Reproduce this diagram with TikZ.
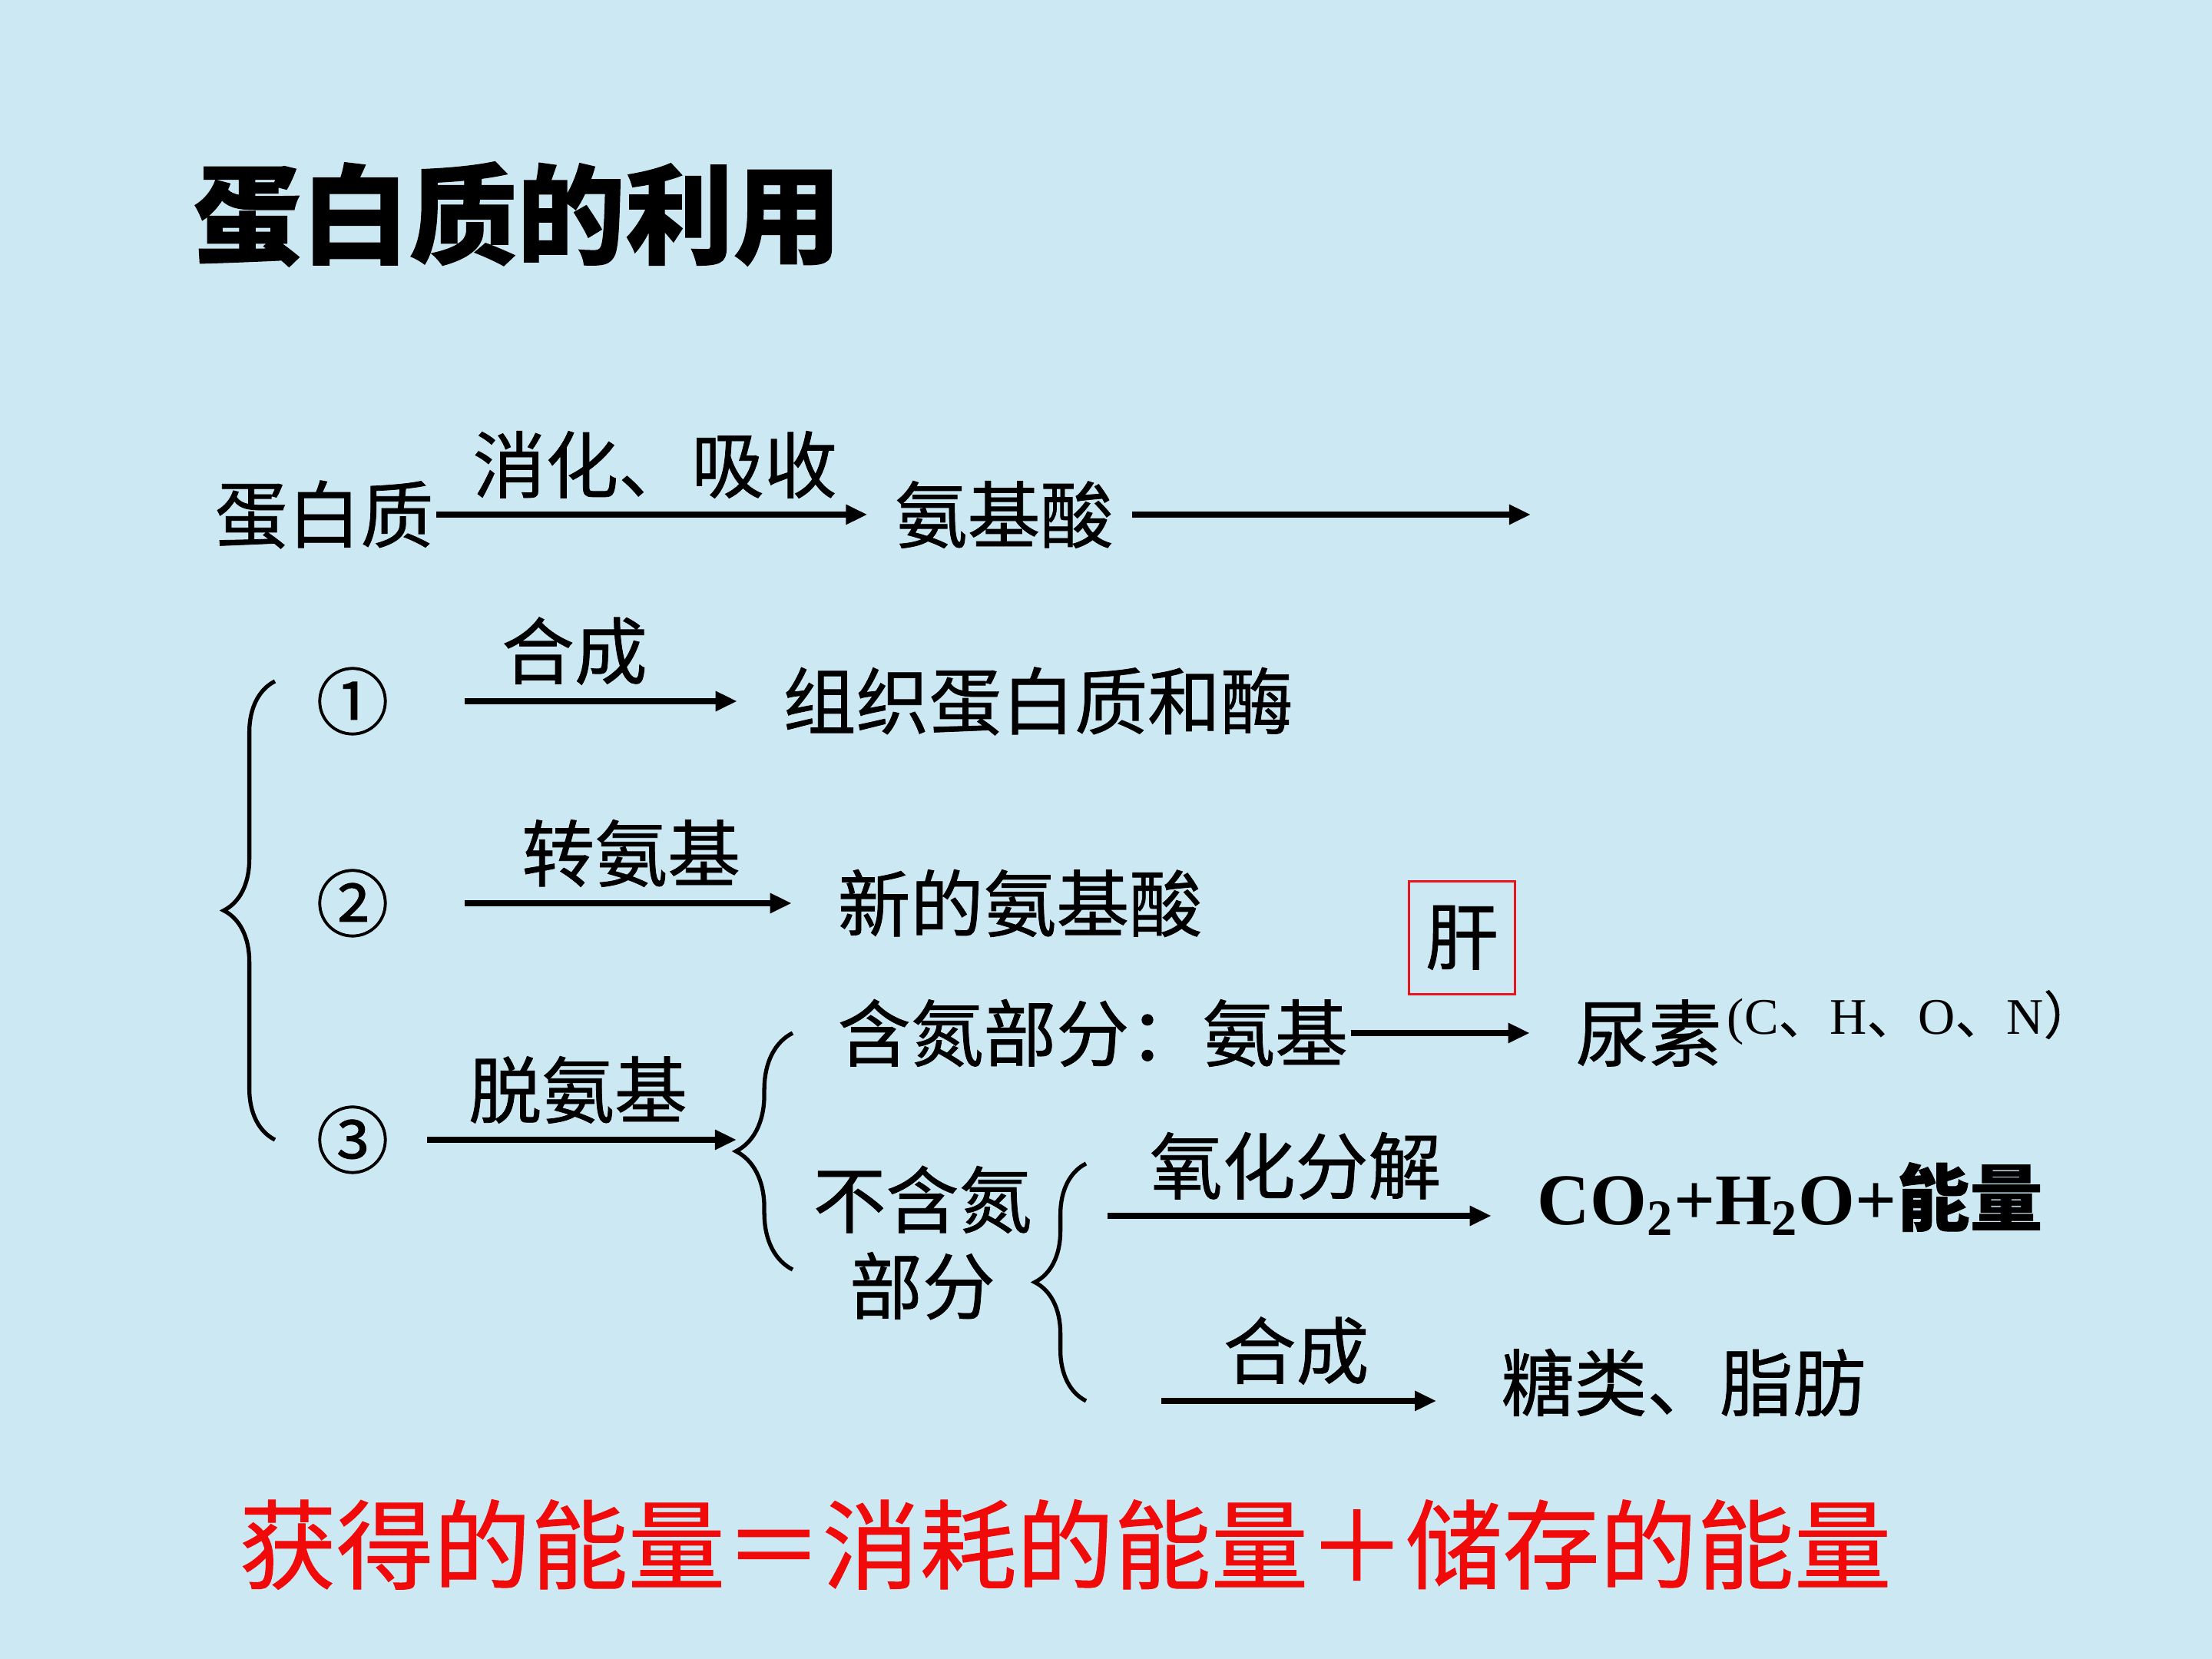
\documentclass[tikz,border=0pt]{standalone}
\usepackage{fontspec}
\setmainfont{Liberation Serif}
\newfontfamily\cjk[FakeBold=0.8]{Noto Sans CJK SC}
\usetikzlibrary{arrows.meta, positioning, decorations.pathreplacing}
\definecolor{paleblue}{HTML}{CCE8F2}
\definecolor{liverred}{HTML}{E8141E}
\definecolor{eqred}{HTML}{F00A0A}

\begin{document}
\begin{tikzpicture}[>={Triangle[length=8pt, width=7pt]}, line width=2.1pt,
  txt/.style={inner sep=0pt, font=\cjk\fontsize{27}{32}\selectfont},
  lab/.style={txt, above=5pt},
  arr/.style={->, line width=2.1pt},
  curly/.style={decorate, decoration={brace, amplitude=#1}, line width=1.5pt}]

% Background
\fill[paleblue] (0,0) rectangle (28.8,21.6);

% Title
\node[txt, anchor=west, font=\cjk\bfseries\fontsize{40}{48}\selectfont] (title) at (2.48,18.81) {蛋白质的利用};

% Row 0: digestion
\node[txt, anchor=west] (prot) at (2.76,14.90) {蛋白质};
\node[txt, anchor=west] (aa) at (11.61,14.90) {氨基酸};
\coordinate (aaout) at (19.93,14.90);
\draw[arr, shorten >=9pt] (prot) -- node[lab, pos=0.48] {消化、吸收} (aa);
\draw[arr, shorten <=6pt] (aa) -- (aaout);

% Big brace
\draw[curly=19pt] (3.58,6.76) -- (3.58,12.73);

% Route 1
\node[txt] (n1) at (4.59,12.47) {①};
\node[txt, anchor=west] (t1) at (10.16,12.47) {组织蛋白质和酶};
\draw[arr, shorten <=27pt, shorten >=16pt] (n1) -- node[lab, pos=0.47] {合成} (t1);

% Route 2
\node[txt] (n2) at (4.59,9.84) {②};
\node[txt, anchor=west] (t2) at (10.87,9.84) {新的氨基酸};
\draw[arr, shorten <=27pt, shorten >=16pt] (n2) -- node[lab, pos=0.54] {转氨基} (t2);

% Route 3
\node[txt] (n3) at (4.59,6.76) {③};
\coordinate (b2tip) at (9.59,6.76);
\draw[arr, shorten <=13pt] (n3) -- node[lab, pos=0.54] {脱氨基} (b2tip);

% Second brace
\draw[curly=21pt] (10.32,5.07) -- (10.32,8.15);

% Nitrogen part
\node[txt, anchor=west] (nh) at (10.87,8.15) {含氮部分：氨基};
\node[txt, anchor=west] (urea) at (20.48,8.15) {尿素};
\node[inner sep=0pt, anchor=west, font=\fontsize{19}{22}\selectfont] (elem) at ([yshift=0.2cm]urea.east)
  {(C{\cjk 、}H{\cjk 、}O{\cjk 、}N{\cjk ）}};
\draw[arr, shorten >=16pt] (nh) -- node[txt, above=14pt, draw=liverred, line width=0.8pt,
  minimum width=1.38cm, minimum height=1.47cm] (liver) {肝} (urea);

% Non-nitrogen part
\node[txt, align=center] (nn) at (12.01,5.42) {不含氮\\部分};

% Third brace
\draw[curly=19pt] (14.14,3.36) -- (14.14,6.45);

% Oxidation
\coordinate (oxs) at (14.42,5.77);
\node[txt, anchor=west, font=\bfseries\fontsize{27}{32}\selectfont] (co2) at (19.98,5.99)
  {CO\textsubscript{2}+H\textsubscript{2}O+{\cjk 能量}};
\draw[arr, shorten >=16pt] (oxs) -- node[lab, pos=0.44] {氧化分解} (oxs -| co2.west);

% Synthesis
\coordinate (syns) at (15.12,3.36);
\node[txt, anchor=west] (fat) at (19.51,3.60) {糖类、脂肪};
\draw[arr, shorten >=23pt] (syns) -- node[lab, pos=0.4] {合成} (syns -| fat.west);

% Energy balance
\node[txt, text=eqred, font=\cjk\fontsize{36}{42}\selectfont] (balance) at (13.87,1.49)
  {获得的能量＝消耗的能量＋储存的能量};

\end{tikzpicture}
\end{document}
